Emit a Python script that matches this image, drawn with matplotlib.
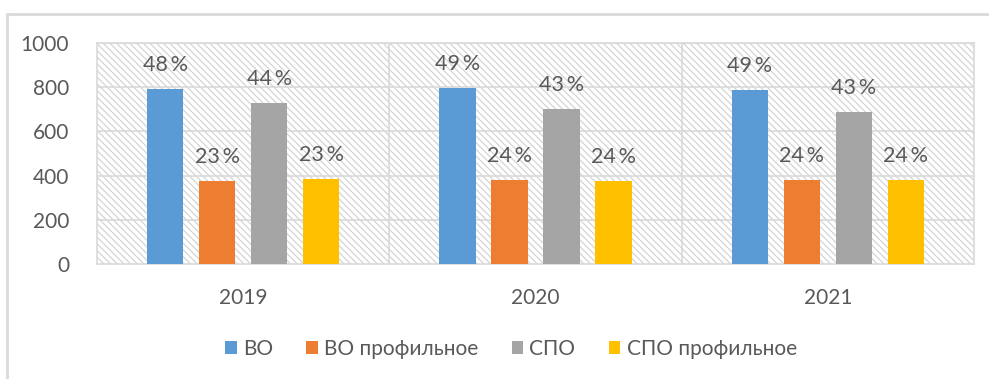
import matplotlib.pyplot as plt
import numpy as np
from matplotlib.patches import Rectangle

years = ["2019", "2020", "2021"]
series = ["ВО", "ВО профильное", "СПО", "СПО профильное"]
values = {
    "ВО": [792, 796, 787],
    "ВО профильное": [376, 380, 380],
    "СПО": [729, 701, 688],
    "СПО профильное": [385, 376, 380],
}
shares = {
    "ВО": [48, 49, 49],
    "ВО профильное": [23, 24, 24],
    "СПО": [44, 43, 43],
    "СПО профильное": [23, 24, 24],
}
colors = ["#5b9bd5", "#ed7d31", "#a5a5a5", "#ffc000"]

plt.rcParams["font.family"] = ["Lato", "DejaVu Sans"]
plt.rcParams["hatch.linewidth"] = 0.9
plt.rcParams["hatch.color"] = "#d4d4d4"
text_color = "#595959"
grid_color = "#d9d9d9"

fig = plt.figure(figsize=(9.89, 3.79), dpi=100)
# chart frame
fig.patches.append(Rectangle((7 / 989, -0.2), 1.2, 1.2 - 14 / 379,
                             transform=fig.transFigure, fill=False,
                             edgecolor=grid_color, linewidth=2))
ax = fig.add_axes([97 / 989, 1 - 264 / 379, (974 - 97) / 989, (264 - 43) / 379])

# hatched plot area
ax.add_patch(Rectangle((0, 0), 1, 1, transform=ax.transAxes, facecolor="white",
                       hatch="\\" * 5, edgecolor="#d4d4d4", linewidth=0, zorder=0))

x = np.arange(len(years))
width = 0.125
step = 0.178
for i, (name, color) in enumerate(zip(series, colors)):
    pos = x + (i - 1.5) * step
    ax.bar(pos, values[name], width, color=color, label=name, zorder=3)
    for px, v, s in zip(pos, values[name], shares[name]):
        ax.annotate(f"{s}\u2009%", (px, v), xytext=(0, 10), textcoords="offset points",
                    ha="center", va="bottom", fontsize=15.5, color=text_color, zorder=4)

ax.set_xlim(-0.5, 2.5)
ax.set_ylim(0, 1000)
ax.set_yticks(range(0, 1001, 200))
ax.set_xticks(x)
ax.set_xticklabels(years)
ax.tick_params(length=0, labelsize=15, colors=text_color)
ax.tick_params(axis="y", pad=20)
ax.tick_params(axis="x", pad=17)

for y in range(200, 1001, 200):
    ax.axhline(y, color=grid_color, linewidth=1.2, zorder=1)
for xv in (0.5, 1.5):
    ax.axvline(xv, color=grid_color, linewidth=1.2, zorder=1)
for sp in ax.spines.values():
    sp.set_color(grid_color)
    sp.set_linewidth(1.2)

fig.legend(loc="center", bbox_to_anchor=(511 / 989, 1 - 349 / 379), ncol=4,
           frameon=False, fontsize=15, labelcolor=text_color,
           handlelength=0.55, handleheight=0.55, handletextpad=0.3, columnspacing=1.6)

fig.savefig("out.png", dpi=100)
